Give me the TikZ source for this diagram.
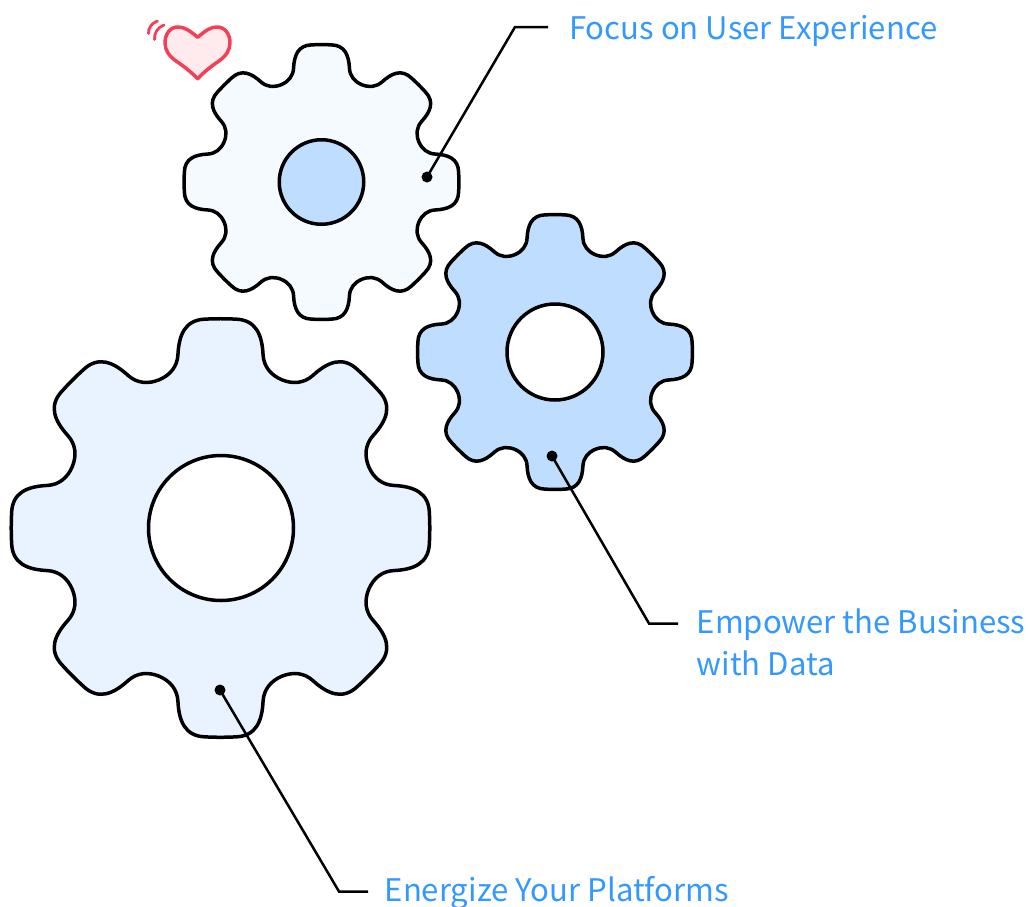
\documentclass[tikz,border=0pt]{standalone}
\usepackage{fontspec}
\newfontfamily\lblfont{Noto Sans CJK SC}
\definecolor{lblblue}{HTML}{3399FF}
\definecolor{gearpale}{HTML}{F5FAFF}
\definecolor{gearlight}{HTML}{E8F3FF}
\definecolor{gearmid}{HTML}{BFDDFF}
\definecolor{heartred}{HTML}{F43F57}
\definecolor{heartfill}{HTML}{FFEBEE}
\tikzset{
  gearline/.style={draw=black,line width=3.5pt,line join=round},
  leader/.style={draw=black,line width=2.5pt},
  dotmark/.style={circle,fill=black,inner sep=0pt,minimum size=11pt},
  lbl/.style={anchor=base west,inner sep=0pt,text=lblblue,font=\lblfont\fontsize{31.1}{42}\selectfont,align=left},
}
\newcommand{\gearpath}[2]{%
  \path[gearline,fill=#2,shift={#1}] ([rotate=0]-62,-149.7)
  \foreach \a in {0,-45,-90,-135,-180,-225,-270,-315}{
    .. controls ([rotate=\a]-51,-154.3) and ([rotate=\a]-43.6,-163) .. ([rotate=\a]-43,-175)
    .. controls ([rotate=\a]-42,-195) and ([rotate=\a]-36,-210.5) .. ([rotate=\a]-15,-211)
    .. controls ([rotate=\a]-5,-211.5) and ([rotate=\a]5,-211.5) .. ([rotate=\a]15,-211)
    .. controls ([rotate=\a]36,-210.5) and ([rotate=\a]42,-195) .. ([rotate=\a]43,-175)
    .. controls ([rotate=\a]43.6,-163) and ([rotate=\a]51,-154.3) .. ([rotate=\a]62,-149.7)
  } -- cycle;}
\begin{document}
\begin{tikzpicture}[x=1pt,y=-1pt]
\useasboundingbox (0,0) rectangle (1031,906);
% gears
\begin{scope}[shift={(220.5,528)},scale=0.99]\gearpath{(0,0)}{gearlight}\end{scope}
\begin{scope}[shift={(321.5,182)},scale=0.65]\gearpath{(0,0)}{gearpale}\end{scope}
\begin{scope}[shift={(555,352)},scale=0.65]\gearpath{(0,0)}{gearmid}\end{scope}
\node[circle,gearline,fill=white,minimum size=145pt,inner sep=0pt] (holeA) at (221,528) {};
\node[circle,gearline,fill=gearmid,minimum size=84.5pt,inner sep=0pt] (holeB) at (321.5,182) {};
\node[circle,gearline,fill=white,minimum size=96pt,inner sep=0pt] (holeC) at (555,352) {};
% heart
\draw[line width=3.5pt,draw=heartred,fill=heartfill,line join=round]
  (197.7,37.3) .. controls (189,30) and (184,27) .. (178,27)
  .. controls (170,27) and (165,34) .. (165,43)
  .. controls (165,50) and (169,56) .. (176,61)
  .. controls (185,67) and (192,73) .. (197.7,78.7)
  .. controls (203,73) and (210,67) .. (219,61)
  .. controls (226,56) and (230,50) .. (230,43)
  .. controls (230,34) and (225,27) .. (217,27)
  .. controls (211,27) and (206,30) .. (197.7,37.3) -- cycle;
\draw[line width=2.8pt,draw=heartred,line cap=round] (148.5,33.5) .. controls (148,28) and (152,23) .. (157.5,21);
\draw[line width=2.8pt,draw=heartred,line cap=round] (154.5,39.5) .. controls (154,33) and (158,27) .. (164,25);
% labels
\node[lbl] (lblA) at (569,39) {Focus on User Experience};
\node[lbl] (lblB) at (696.5,675) {Empower the Business\\with Data};
\node[lbl] (lblC) at (384.5,901) {Energize Your Platforms};
% dots and leaders
\node[dotmark] (dotA) at (427,177) {};
\node[dotmark] (dotB) at (552,456) {};
\node[dotmark] (dotC) at (220,690) {};
\coordinate (elbA) at (515,27);
\coordinate (endA) at (548,27);
\coordinate (elbB) at (649,623.5);
\coordinate (endB) at (678,623.5);
\coordinate (elbC) at (339,891.5);
\coordinate (endC) at (368,891.5);
\draw[leader] (dotA.center) -- (elbA) -- (endA);
\draw[leader] (dotB.center) -- (elbB) -- (endB);
\draw[leader] (dotC.center) -- (elbC) -- (endC);
\end{tikzpicture}
\end{document}
